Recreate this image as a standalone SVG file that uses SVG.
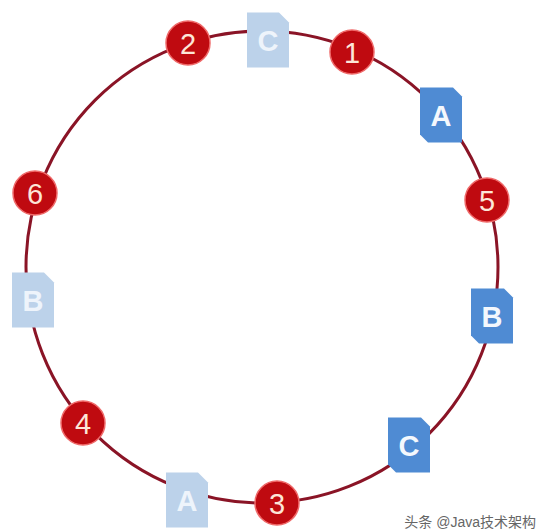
<svg xmlns="http://www.w3.org/2000/svg" width="543" height="530" viewBox="0 0 543 530">
<style>
.ring{fill:none;stroke:#8a1426;stroke-width:3}
.node circle{fill:#bf0a10;stroke:#ef6a6a;stroke-width:1.5}
.node text{font-family:"Liberation Sans",Arial,sans-serif;font-size:29px;fill:#fde6d8;text-anchor:middle;dominant-baseline:central}
.box text{font-family:"Liberation Sans",Arial,sans-serif;font-weight:bold;font-size:29px;text-anchor:middle;dominant-baseline:central}
.blue use{fill:#4f8bd3}
.blue text{fill:#f4f8fd}
.light use{fill:#bcd2ea}
.light text{fill:#eef4fb}
.wm{font-family:"Liberation Sans","Noto Sans CJK SC",sans-serif;font-size:14px;fill:#666;text-anchor:end}
</style>
<defs>
<path id="fileB" d="M-21,-27.5 H12 L21,-18.5 V27.5 H-13 L-21,19.5 Z"/>
<path id="fileL" d="M-21,-27.5 H11 L21,-17.5 V27.5 H-21 Z"/>
</defs>
<rect width="543" height="530" fill="#ffffff"/>
<g id="connectors">
<circle class="ring" cx="262" cy="267" r="236"/>
</g>
<g id="box-c-top" class="box light" transform="translate(268,40)"><use href="#fileL"/><text x="0" y="1">C</text></g>
<g id="box-b-left" class="box light" transform="translate(33,300)"><use href="#fileL"/><text x="0" y="1">B</text></g>
<g id="box-a-bottom" class="box light" transform="translate(187,500)"><use href="#fileL"/><text x="0" y="1">A</text></g>
<g id="box-a-right" class="box blue" transform="translate(441,115)"><use href="#fileB"/><text x="0" y="1">A</text></g>
<g id="box-b-right" class="box blue" transform="translate(492,316)"><use href="#fileB"/><text x="0" y="1">B</text></g>
<g id="box-c-right" class="box blue" transform="translate(409,445)"><use href="#fileB"/><text x="0" y="1">C</text></g>
<g id="node-1" class="node"><circle cx="352" cy="52" r="22"/><text x="352" y="53">1</text></g>
<g id="node-2" class="node"><circle cx="188" cy="43" r="22"/><text x="188" y="44">2</text></g>
<g id="node-3" class="node"><circle cx="277" cy="503" r="22"/><text x="277" y="504">3</text></g>
<g id="node-4" class="node"><circle cx="83" cy="423" r="22"/><text x="83" y="424">4</text></g>
<g id="node-5" class="node"><circle cx="487" cy="200" r="22"/><text x="487" y="201">5</text></g>
<g id="node-6" class="node"><circle cx="35" cy="193" r="22"/><text x="35" y="194">6</text></g>
<text class="wm" x="536" y="527">头条 @Java技术架构</text>
</svg>
